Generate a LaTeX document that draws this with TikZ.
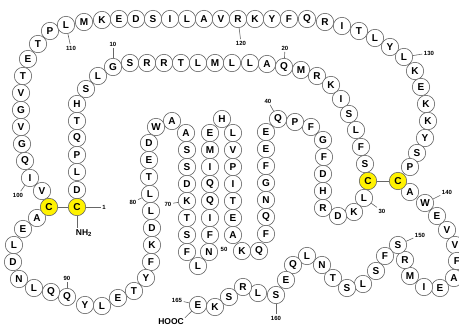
\documentclass[tikz,border=0pt]{standalone}
\usepackage{fontspec}
\setmainfont{Liberation Sans}
\begin{document}
\begin{tikzpicture}[x=1pt,y=-1pt,
  res/.style={circle,draw=black!60,line width=0.6pt,fill=white,minimum size=17.4pt,inner sep=0pt,font=\bfseries\fontsize{10}{10}\selectfont},
  cys/.style={res,fill=yellow},
  lab/.style={inner sep=1.5pt,font=\bfseries\fontsize{6}{6}\selectfont},
  term/.style={inner sep=1pt,font=\bfseries\fontsize{8.5}{8.5}\selectfont},
  link/.style={draw=black!60,line width=0.6pt}]
\useasboundingbox (0,0) rectangle (459,327);
\clip (0,0) rectangle (459,327);
\foreach \n/\x/\y/\a in {
 2/77/190/D, 3/77/172/L, 4/77/155/P, 5/77/138/Q, 6/77/121/T, 7/77/104/H, 8/86/89/S, 9/98/76/L,
 10/113/67/G, 11/130/63/S, 12/147/63/R, 13/164/63/R, 14/181/63/T, 15/198/63/L, 16/215/63/M, 17/232/63/L,
 18/250/63/L, 19/267/64/A, 20/284/67/Q, 21/301/70/M, 22/317/76/R, 23/331/85/K, 24/341/99/I, 25/349/114/S,
 26/356/130/L, 27/361/147/F, 28/365/164/S,
 30/364/198/L, 31/354/212/K, 32/338/216/D, 33/323/208/R, 34/323/191/H, 35/323/174/D, 36/324/157/F,
 37/323/140/G, 38/311/127/F, 39/295/122/P, 40/278/119/Q, 41/266/132/E, 42/266/149/E, 43/266/166/F,
 44/266/183/G, 45/266/200/N, 46/266/217/Q, 47/266/234/F, 48/259/251/Q, 49/242/251/K, 50/233/235/A,
 51/233/218/E, 52/233/201/T, 53/233/184/I, 54/233/167/P, 55/233/150/V, 56/233/133/L, 57/222/119/H,
 58/210/133/E, 59/210/150/M, 60/210/167/I, 61/210/184/Q, 62/210/201/Q, 63/210/218/I, 64/210/235/F,
 65/209/252/N, 66/198/266/L, 67/187/252/F, 68/187/235/S, 69/187/218/T, 70/187/201/K, 71/187/184/D,
 72/187/167/S, 73/187/150/S, 74/186/133/A, 75/172/121/A, 76/156/127/W, 77/149/143/D, 78/149/160/E,
 79/149/177/T, 80/150/194/L, 81/151/211/L, 82/152/228/D, 83/152/245/K, 84/151/262/F, 85/146/278/Y,
 86/134/291/T, 87/118/298/E, 88/102/306/L, 89/85/305/Y, 90/67/297/Q, 91/51/292/Q, 92/34/288/L,
 93/19/279/N, 94/13/262/D, 95/14/245/L, 96/23/229/E, 97/37/218/A,
 99/42/191/V, 100/30/178/I, 101/25/161/Q, 102/22/144/G, 103/21/127/V, 104/21/110/G, 105/21/93/V,
 106/23/76/T, 107/28/59/E, 108/38/44/T, 109/50/31/P, 110/66/25/L, 111/84/22/M, 112/102/20/K,
 113/119/19/E, 114/136/19/D, 115/153/19/S, 116/170/19/I, 117/187/19/L, 118/204/19/A, 119/221/19/V,
 120/238/19/R, 121/255/19/K, 122/272/19/Y, 123/289/19/F, 124/307/19/Q, 125/325/22/R, 126/342/26/I,
 127/359/31/T, 128/375/38/L, 129/390/47/Y, 130/404/57/L, 131/415/71/K, 132/421/87/E, 133/426/104/K,
 134/428/121/K, 135/425/138/Y, 136/417/153/S, 137/410/167/P,
 139/410/192/A, 140/425/203/W, 141/437/216/E, 142/447/230/V, 143/455/245/V, 144/457/261/F,
 145/454/278/A, 146/440/288/E, 147/424/287/I, 148/410/276/M, 149/405/260/R, 150/398/245/S,
 151/385/256/F, 152/376/271/S, 153/363/284/L, 154/347/288/S, 155/333/278/T, 156/322/265/N,
 157/307/256/L, 158/293/265/Q, 159/286/280/E, 160/276/295/S, 161/258/293/L, 162/243/287/R,
 163/229/297/S, 164/215/307/K, 165/198/305/E}
 {\node[res] (r\n) at (\x,\y) {\a};}
\node[cys] (r1) at (77,207) {C};
\node[cys] (r29) at (368,181) {C};
\node[cys] (r98) at (49,207) {C};
\node[cys] (r138) at (398,181) {C};
% disulfide bonds
\draw[link] (r98) -- (r1);
\draw[link] (r29) -- (r138);
% termini
\node[term] (nh2) at (84,233) {NH\textsubscript{2}};
\draw[link] (r1.south) -- (r1.south |- nh2.north);
\node[term] (hooc) at (171,322) {HOOC};
\draw[link] (r165) -- (hooc.north east);
% position labels
\node[lab] (l1) at (104,207) {1};
\node[lab] (l10) at (113,44) {10};
\node[lab] (l20) at (285,48) {20};
\node[lab] (l30) at (382,211) {30};
\node[lab] (l40) at (268,101) {40};
\node[lab] (l50) at (224,249) {50};
\node[lab] (l70) at (168,204) {70};
\node[lab] (l80) at (133,202) {80};
\node[lab] (l90) at (67,278) {90};
\node[lab] (l100) at (18,195) {100};
\node[lab] (l110) at (71,48) {110};
\node[lab] (l120) at (241,43) {120};
\node[lab] (l130) at (429,53) {130};
\node[lab] (l140) at (447,192) {140};
\node[lab] (l150) at (420,235) {150};
\node[lab] (l160) at (276,318) {160};
\node[lab] (l165) at (177,300) {165};
\foreach \n in {1,10,20,30,40,70,80,90,100,110,120,130,140,150,160,165}
  {\draw[link] (r\n) -- (l\n);}
\end{tikzpicture}
\end{document}
